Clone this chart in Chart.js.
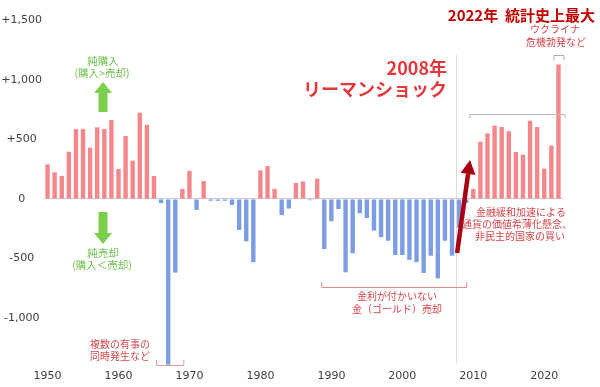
<!DOCTYPE html>
<html><head><meta charset="utf-8">
<script src="https://cdn.jsdelivr.net/npm/chart.js@4"></script>
<style>html,body{margin:0;padding:0;background:#fff}#wrap{width:600px;height:387px}</style>
</head><body><div id="wrap"><canvas id="c" width="600" height="387"></canvas></div>
<script>
const years = [1950,1951,1952,1953,1954,1955,1956,1957,1958,1959,
  1960,1961,1962,1963,1964,1965,1966,1967,1968,1969,
  1970,1971,1972,1973,1974,1975,1976,1977,1978,1979,
  1980,1981,1982,1983,1984,1985,1986,1987,1988,1989,
  1990,1991,1992,1993,1994,1995,1996,1997,1998,1999,
  2000,2001,2002,2003,2004,2005,2006,2007,2008,2009,
  2010,2011,2012,2013,2014,2015,2016,2017,2018,2019,
  2020,2021,2022];
const netPurchases = [290,223,193,396,586,586,430,600,586,662,
  251,527,321,723,622,193,-35,-1390,-617,84,
  235,-92,150,-15,-15,-15,-50,-260,-355,-530,
  240,275,85,-135,-80,135,147,-10,170,-420,
  -187,-84,-615,-455,-120,-160,-265,-320,-350,-470,
  -470,-510,-530,-620,-475,-665,-350,-475,-240,-34,
  84,480,550,615,603,567,393,371,656,603,
  254,447,1128];
const yTicks = [1500,1000,500,0,-500,-1000];
const xTickYears = [1950,1960,1970,1980,1990,2000,2010,2020];

const RED = '#f3878b', BLUE = '#7c9de2';
const JP = '"Noto Sans CJK JP", "Noto Sans", sans-serif';

function fmt(v){
  if (v === 0) return '0';
  const s = Math.abs(v).toLocaleString('en-US');
  return (v > 0 ? '+' : '-') + s;
}

const annot = {
  id: 'annot',
  afterDatasetsDraw(chart){
    const ctx = chart.ctx, xs = chart.scales.x, ys = chart.scales.y;
    const px = y => xs.getPixelForValue(years.indexOf(y));
    ctx.save();
    // vertical line (Lehman)
    const vx = Math.round((px(2007)+px(2008))/2) + 0.5;
    ctx.strokeStyle = '#dcdcdc'; ctx.lineWidth = 1;
    ctx.beginPath(); ctx.moveTo(vx, 55); ctx.lineTo(vx, ys.bottom - 2); ctx.stroke();

    function bracket(x1, x2, yH, yEnd, color){
      ctx.strokeStyle = color; ctx.lineWidth = 1;
      ctx.beginPath();
      ctx.moveTo(x1+0.5, yEnd); ctx.lineTo(x1+0.5, yH+0.5); ctx.lineTo(x2+0.5, yH+0.5); ctx.lineTo(x2+0.5, yEnd);
      ctx.stroke();
    }
    bracket(px(1966)-5, px(1968)+8, 365, 360, '#e39a9a');
    bracket(px(1989)-3, px(2009), 287, 282, '#e48a8a');
    bracket(px(2010)-4, px(2022)+6, 114, 118, '#c9b0b0');
    bracket(px(2022)-5, px(2022)+5, 55, 60, '#aaaaaa');

    // green arrows
    ctx.fillStyle = '#7ccf4c';
    const gx = 103;
    ctx.fillRect(gx-4.5, 93, 9, 19);
    ctx.beginPath(); ctx.moveTo(gx-9, 93); ctx.lineTo(gx+9, 93); ctx.lineTo(gx, 82); ctx.closePath(); ctx.fill();
    ctx.fillRect(gx-4.5, 212, 9, 21);
    ctx.beginPath(); ctx.moveTo(gx-9, 233); ctx.lineTo(gx+9, 233); ctx.lineTo(gx, 244); ctx.closePath(); ctx.fill();

    // dark red arrow
    const tx = px(2008)-2, ty = 253, hx = 470, hy = 160;
    const ang = Math.atan2(hy-ty, hx-tx);
    const hl = 14, hw = 7.5;
    const bx = hx - hl*Math.cos(ang), by = hy - hl*Math.sin(ang);
    ctx.strokeStyle = '#a80012'; ctx.fillStyle = '#a80012'; ctx.lineWidth = 4.5;
    ctx.beginPath(); ctx.moveTo(tx, ty); ctx.lineTo(bx, by); ctx.stroke();
    ctx.beginPath();
    ctx.moveTo(hx, hy);
    ctx.lineTo(bx + hw*Math.sin(ang), by - hw*Math.cos(ang));
    ctx.lineTo(bx - hw*Math.sin(ang), by + hw*Math.cos(ang));
    ctx.closePath(); ctx.fill();

    // texts
    ctx.textBaseline = 'middle';
    function t(s, x, y, color, size, align, bold){
      ctx.font = (bold ? 'bold ' : '') + size + 'px ' + JP;
      ctx.fillStyle = color; ctx.textAlign = align || 'center';
      ctx.fillText(s, x, y);
    }
    const G = '#6fbf4e', R = '#d0474c';
    t('純購入', 103, 61, G, 10.5);
    t('(購入>売却)', 102, 73, G, 10.5);
    t('純売却', 103, 253, G, 10.5);
    t('(購入＜売却)', 102, 265, G, 10.5);
    t('複数の有事の', 120, 344, R, 10);
    t('同時発生など', 120, 356, R, 10);
    t('金利が付かいない', 397, 296, R, 10);
    t('金（ゴールド）売却', 397, 309, R, 10);
    t('金融緩和加速による', 521, 212, R, 10);
    t('通貨の価値希薄化懸念、', 517, 224, R, 10);
    t('非民主的国家の買い', 520, 236, R, 10);
    t('ウクライナ', 555, 29, R, 10);
    t('危機勃発など', 556, 42, R, 10);
    t('2022年  統計史上最大', 595, 15, '#c00000', 15, 'right', true);
    t('2008年', 447, 68, '#e3383e', 18, 'right', true);
    t('リーマンショック', 447, 89, '#e3383e', 18, 'right', true);
    ctx.restore();
  }
};

new Chart(document.getElementById('c'), {
  type: 'bar',
  data: {
    labels: years.map(String),
    datasets: [{
      data: netPurchases,
      backgroundColor: netPurchases.map(v => v >= 0 ? RED : BLUE),
      borderWidth: 0,
      categoryPercentage: 1,
      barPercentage: 0.62
    }]
  },
  options: {
    responsive: false, animation: false, devicePixelRatio: 1,
    layout: { padding: { top: 20, right: 38, left: 0, bottom: 0 } },
    plugins: { legend: { display: false }, tooltip: { enabled: false } },
    scales: {
      x: {
        offset: true,
        grid: { display: false, drawTicks: false },
        border: { display: false },
        ticks: {
          autoSkip: false, maxRotation: 0, minRotation: 0, padding: 4,
          color: '#404040', font: { family: 'DejaVu Sans', size: 11 },
          callback: (v, i) => xTickYears.includes(years[i]) ? String(years[i]) : ''
        },
        afterFit: s => { s.height = 21; }
      },
      y: {
        min: -1400, max: 1500,
        afterBuildTicks: s => { s.ticks = yTicks.map(v => ({ value: v })); },
        grid: { drawTicks: false, color: c => (c.tick && c.tick.value === 0) ? '#c8c8c8' : 'rgba(0,0,0,0)' },
        border: { display: false },
        ticks: {
          padding: 2, crossAlign: 'center',
          color: '#404040', font: { family: 'DejaVu Sans', size: 11 },
          callback: v => fmt(v)
        },
        afterFit: s => { s.width = 44; }
      }
    }
  },
  plugins: [annot]
});
</script>
</body></html>
